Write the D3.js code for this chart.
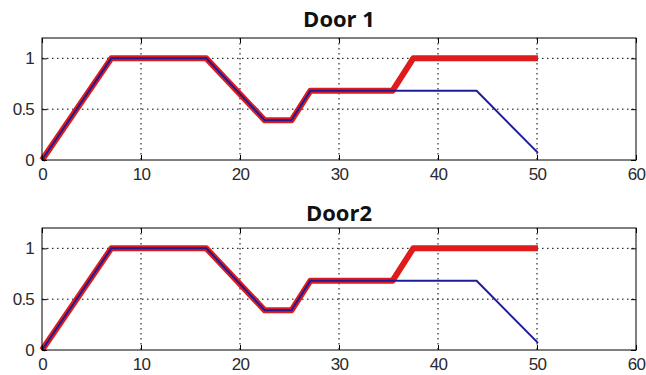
<!DOCTYPE html>
<html>
<head>
<meta charset="utf-8">
<script src="https://cdn.jsdelivr.net/npm/d3@7"></script>
<style>
  body { margin: 0; background: #fff; }
  .tick text { font-family: "Liberation Sans", Arial, sans-serif; font-size: 17px; letter-spacing: -0.8px; fill: #2a2a2a; }
  .title { font-family: "Open Sans", sans-serif; font-weight: bold; font-size: 22px; fill: #111; }
  .grid line { stroke: #000; stroke-dasharray: 1.5,3.5; }
</style>
</head>
<body>
<div id="app"></div>
<script>
// Data (same for both doors)
const panelTitles = ["Door 1", "Door2"];
const redX = [0, 7.0, 16.6, 22.5, 25.2, 27.1, 35.4, 37.5, 50.1];
const redY = [0, 1, 1, 0.39, 0.39, 0.68, 0.68, 1, 1];
const blueX = [0, 7.0, 16.6, 22.5, 25.2, 27.1, 35.4, 43.9, 50.1];
const blueY = [0, 1, 1, 0.39, 0.39, 0.68, 0.68, 0.68, 0.07];
const xTicks = [0, 10, 20, 30, 40, 50, 60];
const yTicks = [0, 0.5, 1];

const W = 646, H = 375;
const margin = {left: 42, right: 10};
const panelTop = [38, 228];
const titleGap = [11, 7];
const plotH = 122;
const width = W - margin.left - margin.right;

const svg = d3.select("#app").append("svg")
  .attr("width", W).attr("height", H);

const x = d3.scaleLinear().domain([0, 60]).range([0, width]);
const y = d3.scaleLinear().domain([0, 1.2]).range([plotH, 0]);

const redPts = redX.map((d, i) => ({x: d, y: redY[i]}));
const bluePts = blueX.map((d, i) => ({x: d, y: blueY[i]}));
// part of the blue series that lies on the red one (drawn thicker there)
const bluePts_overlap = bluePts.filter((d, i) => redX[i] === d && redY[i] === blueY[i]);

const line = d3.line().x(d => x(d.x)).y(d => y(d.y));

panelTitles.forEach(function(title, p) {
  const g = svg.append("g").attr("transform", `translate(${margin.left}, ${panelTop[p]})`);

  // gridlines
  g.append("g").attr("class", "grid")
    .selectAll("line").data(xTicks.filter(t => t > 0 && t < 60)).join("line")
    .attr("x1", d => x(d)).attr("x2", d => x(d)).attr("y1", 0).attr("y2", plotH);
  g.append("g").attr("class", "grid")
    .selectAll("line").data(yTicks.filter(t => t > 0)).join("line")
    .attr("x1", 0).attr("x2", width).attr("y1", d => y(d)).attr("y2", d => y(d));

  // lines
  g.append("path").attr("d", line(redPts))
    .attr("fill", "none").attr("stroke", "#e01b1b").attr("stroke-width", 6)
    .attr("stroke-linejoin", "round");
  g.append("path").attr("d", line(bluePts))
    .attr("fill", "none").attr("stroke", "#1c1c9a").attr("stroke-width", 2);
  g.append("path").attr("d", line(bluePts_overlap))
    .attr("fill", "none").attr("stroke", "#3b22a0").attr("stroke-width", 4.5)
    .attr("stroke-linejoin", "round");

  // axes with inward ticks
  const xAxis = g.append("g").attr("transform", `translate(0, ${plotH})`)
    .call(d3.axisBottom(x).tickValues(xTicks).tickSize(-5).tickPadding(8).tickFormat(d3.format("d")));
  const xTop = g.append("g")
    .call(d3.axisTop(x).tickValues(xTicks).tickSize(-5).tickFormat(""));
  const yAxis = g.append("g")
    .call(d3.axisLeft(y).tickValues(yTicks).tickSize(-5).tickPadding(8).tickFormat(d => d));
  const yRight = g.append("g").attr("transform", `translate(${width}, 0)`)
    .call(d3.axisRight(y).tickValues(yTicks).tickSize(-5).tickFormat(""));
  [xAxis, xTop, yAxis, yRight].forEach(a => {
    a.select(".domain").remove();
    a.selectAll(".tick line").attr("stroke", "#000");
  });

  g.append("rect").attr("width", width).attr("height", plotH)
    .attr("fill", "none").attr("stroke", "#000").attr("stroke-width", 1);

  g.append("text").attr("class", "title")
    .attr("x", width / 2).attr("y", -titleGap[p])
    .attr("text-anchor", "middle")
    .text(title);
});
</script>
</body>
</html>
